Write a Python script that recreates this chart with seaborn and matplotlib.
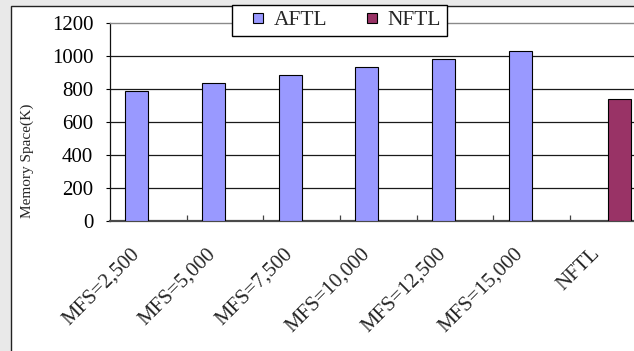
import matplotlib
matplotlib.use("Agg")
import matplotlib.pyplot as plt
from matplotlib.patches import Rectangle
from matplotlib.lines import Line2D
from matplotlib.ticker import FixedLocator
from matplotlib.transforms import ScaledTranslation
import seaborn as sns
import pandas as pd

# Memory space (K) per configuration
categories = ["MFS=2,500", "MFS=5,000", "MFS=7,500", "MFS=10,000",
              "MFS=12,500", "MFS=15,000", "NFTL"]
aftl_categories = categories[:6]
aftl_values = [785, 837, 886, 935, 982, 1032]
nftl_categories = ["NFTL"]
nftl_values = [740]
series_names = ["AFTL", "NFTL"]
series_colors = ["#9999FF", "#993366"]
y_ticks = [0, 200, 400, 600, 800, 1000, 1200]

df = pd.DataFrame({
    "config": aftl_categories + nftl_categories,
    "memory": aftl_values + nftl_values,
    "series": ["AFTL"] * len(aftl_values) + ["NFTL"] * len(nftl_values),
})

sns.set_theme(style="white")
plt.rcParams["font.family"] = ["Liberation Serif", "DejaVu Serif"]

W, H = 634, 351
fig = plt.figure(figsize=(W / 100, H / 100), dpi=100)
fig.patch.set_facecolor("#e9e9e9")

# white chart area with a dark frame
fig.patches.append(Rectangle((10.5 / W, -0.05), 1.0, 1 - 5.5 / H + 0.05,
                             transform=fig.transFigure, facecolor="white",
                             edgecolor="#222222", linewidth=1.0, zorder=-5))

ax = fig.add_axes([110 / W, 1 - 220.7 / H, 536.7 / W, 197.7 / H])
ax.set_facecolor("white")

sns.barplot(data=df, x="config", y="memory", hue="series",
            order=categories, hue_order=series_names,
            palette=series_colors, width=0.6, dodge=True, gap=0,
            edgecolor="black", linewidth=0.8, saturation=1,
            legend=False, ax=ax, zorder=3)

ax.set_xlim(-0.5, len(categories) - 0.5)
ax.set_ylim(0, 1200)
ax.set_yticks(y_ticks)
ax.set_yticklabels([str(v) for v in y_ticks], fontsize=15)
ax.set_xlabel("")
ax.set_ylabel("")

# horizontal gridlines
ax.yaxis.grid(True, color="#1a1a1a", linewidth=0.9)
ax.set_axisbelow(True)
ax.yaxis.get_major_ticks()[-1].gridline.set_visible(False)

ax.spines["right"].set_visible(False)
ax.spines["top"].set_color("#8a8a8a")
ax.spines["top"].set_linewidth(1.0)
ax.spines["left"].set_color("#111111")
ax.spines["left"].set_linewidth(0.9)
ax.spines["bottom"].set_color("#4a4a4a")
ax.spines["bottom"].set_linewidth(1.6)

ax.tick_params(axis="y", direction="out", length=3, width=0.8, pad=9,
               colors="black", labelsize=15, left=True)
# category labels centred, boundary ticks pointing inward
ax.set_xticks(range(len(categories)))
ax.set_xticklabels(categories, rotation=45, ha="right", va="top",
                   fontsize=15)
ax.tick_params(axis="x", which="major", length=0, pad=17, bottom=True)
shift = ScaledTranslation(-5 / 100, 0, fig.dpi_scale_trans)
for lbl in ax.get_xticklabels():
    lbl.set_transform(lbl.get_transform() + shift)
ax.xaxis.set_minor_locator(FixedLocator([i + 0.5 for i in range(len(categories) - 1)]))
ax.tick_params(axis="x", which="minor", direction="in", length=4,
               width=0.9, color="#444444", bottom=True)

fig.text(27 / W, 1 - 161 / H, "Memory Space(K)", rotation=90,
         ha="center", va="center", fontsize=11)

handles = [Line2D([], [], linestyle="none", marker="s", markersize=7.2,
                  markerfacecolor=c, markeredgecolor="black",
                  markeredgewidth=0.8) for c in series_colors]
leg = fig.legend(handles, series_names, loc="upper left",
                 bbox_to_anchor=(232 / W, 1 - 5 / H), ncol=2,
                 fontsize=15.5, frameon=True, fancybox=False, shadow=False,
                 borderpad=0.25, handlelength=1.9, handletextpad=-0.2,
                 columnspacing=1.1, borderaxespad=0)
leg.get_frame().set_edgecolor("black")
leg.get_frame().set_linewidth(1.0)
leg.get_frame().set_facecolor("white")
leg.get_frame().set_alpha(1)

fig.savefig("out.png", dpi=100, facecolor=fig.get_facecolor())
